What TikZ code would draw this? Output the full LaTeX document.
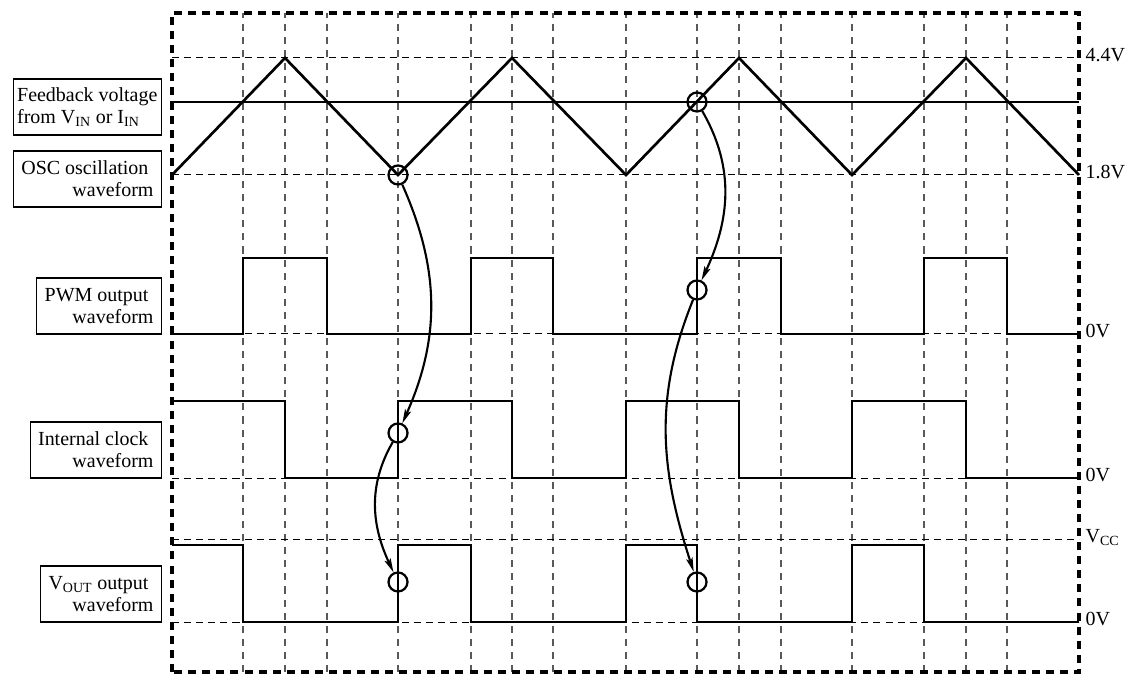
\documentclass[tikz,border=0pt]{standalone}
\usepackage{fontspec}
\setmainfont{Liberation Serif}
\usetikzlibrary{arrows.meta,positioning}

\begin{document}
\begin{tikzpicture}[
  x=0.025cm, y=0.025cm,
  >={Stealth[length=10pt,width=4.6pt,inset=2pt]},
  lbl/.style={font=\fontsize{14.2pt}{15.6pt}\selectfont},
  tag/.style={lbl, draw, line width=0.8pt, anchor=east, align=right,
    minimum height=1.4cm, inner xsep=0.2cm},
  lvl/.style={lbl, anchor=mid west, inner sep=1pt},
  frame/.style={line width=3pt, dash pattern=on 5.7pt off 4.3pt},
  vgrid/.style={draw=black!65, line width=0.85pt, dash pattern=on 5pt off 4.3pt},
  hgrid/.style={line width=0.7pt, dash pattern=on 5pt off 3.6pt},
  wave/.style={line width=1.9pt},
  ring/.style={circle, draw, line width=1.6pt, minimum size=0.475cm, inner sep=0pt},
  cause/.style={->, line width=1.5pt}
]
\useasboundingbox (0,0) rectangle (1128,674);

% -- Grid --
\foreach \x in {243,285,327,398,471,512,553,626,697,739,781,852,924,966,1007}
  \draw[vgrid] (\x,2) -- (\x,661);
\foreach \y in {616,499,340,196,135,52}
  \draw[hgrid] (172,\y) -- (1079,\y);

% -- Feedback level and OSC triangle --
\draw[wave] (172,572) -- (1079,572);
\draw[wave] (172,499) -- (285,616) -- (398,499) -- (512,616) -- (626,499)
  -- (739,616) -- (852,499) -- (966,616) -- (1079,499);

% -- PWM output --
\draw[wave] (172,340) -- (243,340) |- (327,416) |- (471,340) |- (553,416)
  |- (697,340) |- (781,416) |- (924,340) |- (1007,416) |- (1079,340);

% -- Internal clock --
\draw[wave] (172,273) -- (285,273) |- (398,196) |- (512,273) |- (626,196)
  |- (739,273) |- (852,196) |- (966,273) |- (1079,196);

% -- VOUT output --
\draw[wave] (172,129) -- (243,129) |- (398,52) |- (471,129) |- (626,52)
  |- (697,129) |- (852,52) |- (924,129) |- (1079,52);

% -- Frame --
\draw[frame] (172,2) rectangle (1079,661);

% -- Left tags --
\node[tag, align=left, inner xsep=0.1cm] (fb) at (162,567)
  {Feedback voltage\\from V\textsubscript{IN} or I\textsubscript{IN}};
\node[tag] (osc)  at (162,495) {OSC oscillation\hspace*{0.125cm}\\waveform};
\node[tag] (pwm)  at (162,368) {PWM output\hspace*{0.125cm}\\waveform};
\node[tag] (clk)  at (162,224) {Internal clock\hspace*{0.125cm}\\waveform};
\node[tag] (vout) at (162,80)  {V\textsubscript{OUT} output\hspace*{0.125cm}\\waveform};

% -- Right levels --
\node[lvl] (hi)   at (1084,616) {4.4V};
\node[lvl] (lo)   at (1084,499) {1.8V};
\node[lvl] (zpwm) at (1084,340) {0V};
\node[lvl] (zclk) at (1084,196) {0V};
\node[lvl] (vcc)  at (1084,135) {V\textsubscript{CC}};
\node[lvl] (zout) at (1084,52)  {0V};

% -- Marks --
\node[ring] (oscmin)  at (398,499) {};
\node[ring] (fbcross) at (697,572) {};
\node[ring] (clkrise) at (398,241) {};
\node[ring] (pwmrise) at (697,384) {};
\node[ring] (outrise) at (398,92)  {};
\node[ring] (outfall) at (697,92)  {};

% -- Cause arrows --
\draw[cause] (oscmin)  to[out=-66,in=66]   (clkrise);
\draw[cause] (clkrise) to[out=-120,in=115] (outrise);
\draw[cause] (fbcross) to[out=-60,in=65]   (pwmrise);
\draw[cause] (pwmrise) to[out=-112,in=108] (outfall);

\end{tikzpicture}
\end{document}
